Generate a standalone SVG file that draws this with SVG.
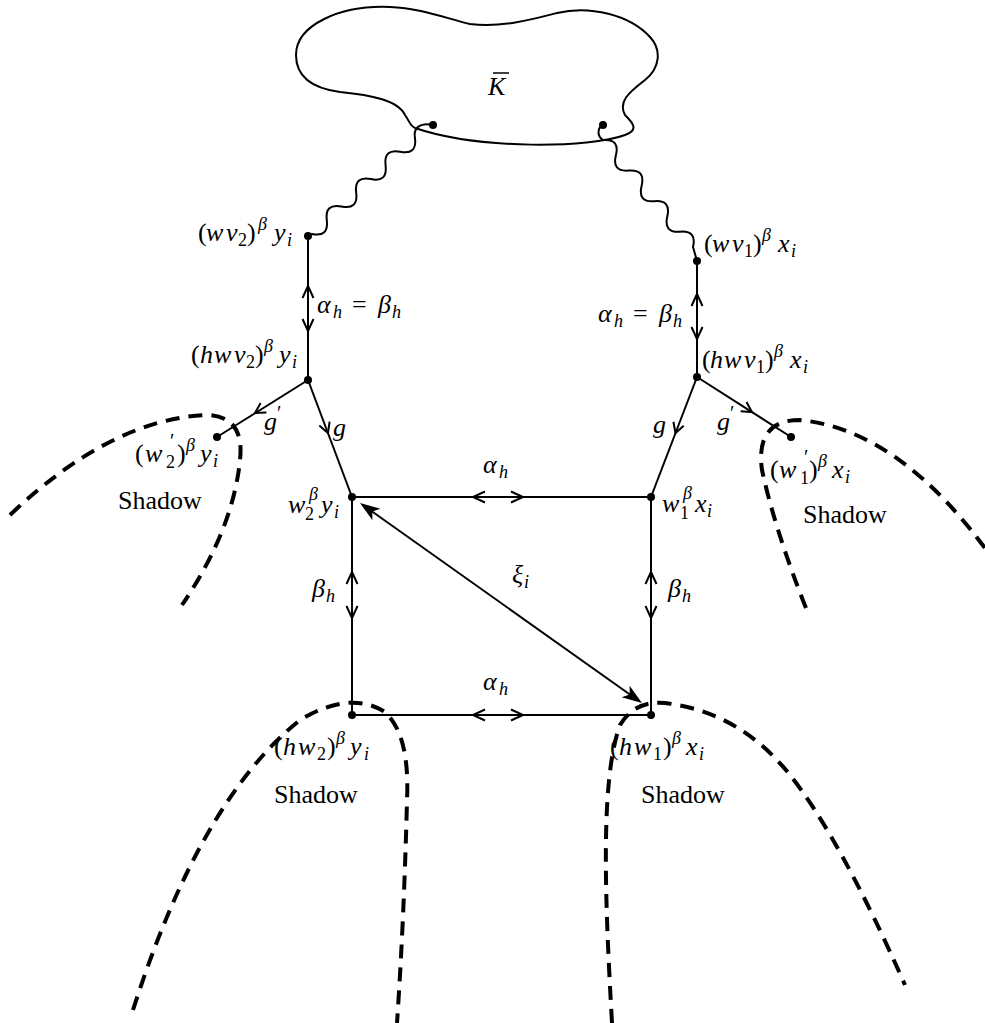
<svg xmlns="http://www.w3.org/2000/svg" width="985" height="1023" viewBox="0 0 985 1023">
<defs>
<circle id="dot" r="4" fill="#000"/>
</defs>
<rect width="985" height="1023" fill="#fff"/>

<g id="blob" font-family="Liberation Serif" font-size="26" font-style="italic">
<path fill="none" stroke="#000" stroke-width="2" d="M 296 55 C 296 25, 340 5, 390 7 C 420 8, 445 18, 470 24 C 500 28, 530 20, 557 13 C 590 5, 630 15, 650 37 C 662 50, 660 68, 645 80 C 628 93, 618 102, 625 115 C 632 122, 640 130, 625 135 C 590 148, 480 150, 415 128 C 410 126, 410 122, 405 115 C 398 100, 370 95, 340 92 C 310 88, 296 75, 296 55 Z"/>
<text x="488" y="95">K</text>
<line x1="493" y1="73" x2="509" y2="73" stroke="#000" stroke-width="1.5"/>
<use href="#dot" x="433" y="125"/>
<use href="#dot" x="603" y="125"/>
</g>

<g id="shadows" font-family="Liberation Serif" font-size="26">
<g fill="none" stroke="#000" stroke-width="4" stroke-dasharray="14 9">
<path d="M 10 515 Q 110 420 205 415 Q 245 415 240 460 Q 233 530 182 605"/>
<path d="M 806 608 Q 775 530 762 470 Q 755 420 800 420 Q 900 430 990 555"/>
<path d="M 133 1010 Q 200 800 300 720 Q 350 690 385 712 Q 410 735 407 800 Q 404 920 397 1023"/>
<path d="M 612 1023 C 605 900, 600 780, 620 725 Q 635 700 665 703 Q 740 712 790 775 T 905 985"/>
</g>
<text x="118" y="509">Shadow</text>
<text x="803" y="523">Shadow</text>
<text x="274" y="803">Shadow</text>
<text x="641" y="803">Shadow</text>
</g>

<g id="connectors" fill="none" stroke="#000" stroke-width="2">
<path d="M 433 125 C 420 122, 413 128, 415 138 Q 417.2 155.1 400.3 151.7 T 385.6 165.4 T 370.9 179.1 T 356.2 192.8 T 341.5 206.5 T 326.8 220.2 T 312.1 233.9 L 308 236"/>
<path d="M 603 125 C 597 128, 597 136, 603 140 Q 620.1 138.6 615.9 155.3 T 628.7 170.6 T 641.6 185.9 T 654.4 201.2 T 667.3 216.4 T 680.2 231.7 T 693 247 L 697 261"/>
<line x1="308" y1="236" x2="308" y2="380"/>
<path d="M 302.5 298 L 308 286 L 313.5 298 M 302.5 319 L 308 331 L 313.5 319"/>
<line x1="697" y1="261" x2="697" y2="377"/>
<path d="M 691.5 306 L 697 294 L 702.5 306 M 691.5 327 L 697 339 L 702.5 327"/>
<line x1="308" y1="380" x2="352" y2="497"/>
<path d="M 319.3 425.6 L 328 433 L 329.6 421.7"/>
<line x1="308" y1="380" x2="217" y2="437"/>
<path d="M 260.6 403 L 255 413 L 266.4 412.4"/>
<line x1="697" y1="377" x2="651" y2="497"/>
<path d="M 673.4 421.7 L 675.5 433 L 683.7 425.7"/>
<line x1="697" y1="377" x2="791" y2="437"/>
<path d="M 740.6 411.2 L 752 412 L 746.5 402"/>
<line x1="352" y1="497" x2="651" y2="497"/>
<path d="M 485 491.5 L 473 497 L 485 502.5 M 511 491.5 L 523 497 L 511 502.5"/>
<line x1="352" y1="715" x2="651" y2="715"/>
<path d="M 485 709.5 L 473 715 L 485 720.5 M 511 709.5 L 523 715 L 511 720.5"/>
<line x1="352" y1="497" x2="352" y2="715"/>
<path d="M 346.5 584 L 352 572 L 357.5 584 M 346.5 606 L 352 618 L 357.5 606"/>
<line x1="651" y1="497" x2="651" y2="715"/>
<path d="M 645.5 584 L 651 572 L 656.5 584 M 645.5 606 L 651 618 L 656.5 606"/>
<line x1="370" y1="510" x2="632" y2="696"/>
<polygon fill="#000" stroke="none" points="360,503 380.4,508.8 372.3,511.6 372.4,520.2"/>
<polygon fill="#000" stroke="none" points="642,703 621.6,697.2 629.7,694.4 629.6,685.8"/>
</g>

<g id="edge-labels" font-family="Liberation Serif" font-size="26" font-style="italic">
<text y="313"><tspan x="317">α</tspan><tspan font-size="18" x="333" dy="5">h</tspan><tspan font-style="normal" x="352" dy="-5">=</tspan><tspan x="378">β</tspan><tspan font-size="18" x="392" dy="5">h</tspan></text>
<text y="322"><tspan x="598">α</tspan><tspan font-size="18" x="614" dy="5">h</tspan><tspan font-style="normal" x="633" dy="-5">=</tspan><tspan x="659">β</tspan><tspan font-size="18" x="673" dy="5">h</tspan></text>
<text x="264" y="430">g<tspan font-size="20" font-style="normal" x="277" dy="-10">′</tspan></text>
<text x="333" y="436">g</text>
<text x="653" y="433">g</text>
<text x="717" y="430">g<tspan font-size="20" font-style="normal" x="730" dy="-10">′</tspan></text>
<text y="473"><tspan x="483">α</tspan><tspan font-size="18" x="499" dy="5">h</tspan></text>
<text y="690"><tspan x="483">α</tspan><tspan font-size="18" x="499" dy="5">h</tspan></text>
<text y="583"><tspan x="512">ξ</tspan><tspan font-size="18" x="524" dy="5">i</tspan></text>
<text y="597"><tspan x="312">β</tspan><tspan font-size="18" x="326" dy="5">h</tspan></text>
<text y="597"><tspan x="668">β</tspan><tspan font-size="18" x="682" dy="5">h</tspan></text>
</g>

<g id="nodes" font-family="Liberation Serif" font-size="26" font-style="italic">
<g id="n-wv2">
<use href="#dot" x="308" y="236"/>
<text y="241"><tspan font-style="normal" x="198">(</tspan><tspan x="206">w</tspan><tspan x="226">v</tspan><tspan font-size="18" font-style="normal" x="238" dy="5">2</tspan><tspan font-style="normal" x="247" dy="-5">)</tspan><tspan font-size="18" x="258" dy="-11">β</tspan><tspan x="274" dy="11">y</tspan><tspan font-size="18" x="287" dy="5">i</tspan></text>
</g>
<g id="n-hwv2">
<use href="#dot" x="308" y="380"/>
<text y="363"><tspan font-style="normal" x="191">(</tspan><tspan x="200">h</tspan><tspan x="214">w</tspan><tspan x="234">v</tspan><tspan font-size="18" font-style="normal" x="246" dy="5">2</tspan><tspan font-style="normal" x="255" dy="-5">)</tspan><tspan font-size="18" x="264" dy="-11">β</tspan><tspan x="279" dy="11">y</tspan><tspan font-size="18" x="292" dy="5">i</tspan></text>
</g>
<g id="n-w2p">
<use href="#dot" x="217" y="437"/>
<text y="462"><tspan font-style="normal" x="135">(</tspan><tspan x="145">w</tspan><tspan font-size="20" font-style="normal" x="170" dy="-14">′</tspan><tspan font-size="18" font-style="normal" x="166" dy="20">2</tspan><tspan font-style="normal" x="177" dy="-6">)</tspan><tspan font-size="18" x="186" dy="-11">β</tspan><tspan x="200" dy="11">y</tspan><tspan font-size="18" x="213" dy="5">i</tspan></text>
</g>
<g id="n-w2">
<use href="#dot" x="352" y="497"/>
<text y="513"><tspan x="288">w</tspan><tspan font-size="18" x="309" dy="-13">β</tspan><tspan font-size="18" font-style="normal" x="305" dy="20">2</tspan><tspan x="321" dy="-7">y</tspan><tspan font-size="18" x="334" dy="5">i</tspan></text>
</g>
<g id="n-hw2">
<use href="#dot" x="352" y="715"/>
<text y="755"><tspan font-style="normal" x="274">(</tspan><tspan x="283">h</tspan><tspan x="298">w</tspan><tspan font-size="18" font-style="normal" x="317" dy="5">2</tspan><tspan font-style="normal" x="327" dy="-5">)</tspan><tspan font-size="18" x="336" dy="-11">β</tspan><tspan x="350" dy="11">y</tspan><tspan font-size="18" x="364" dy="5">i</tspan></text>
</g>
<g id="n-hw1">
<use href="#dot" x="651" y="715"/>
<text y="755"><tspan font-style="normal" x="610">(</tspan><tspan x="619">h</tspan><tspan x="634">w</tspan><tspan font-size="18" font-style="normal" x="653" dy="5">1</tspan><tspan font-style="normal" x="663" dy="-5">)</tspan><tspan font-size="18" x="672" dy="-11">β</tspan><tspan x="686" dy="11">x</tspan><tspan font-size="18" x="699" dy="5">i</tspan></text>
</g>
<g id="n-w1">
<use href="#dot" x="651" y="497"/>
<text y="512"><tspan x="662">w</tspan><tspan font-size="18" x="683" dy="-13">β</tspan><tspan font-size="18" font-style="normal" x="680" dy="20">1</tspan><tspan x="695" dy="-7">x</tspan><tspan font-size="18" x="707" dy="5">i</tspan></text>
</g>
<g id="n-w1p">
<use href="#dot" x="791" y="437"/>
<text y="478"><tspan font-style="normal" x="770">(</tspan><tspan x="779">w</tspan><tspan font-size="20" font-style="normal" x="804" dy="-14">′</tspan><tspan font-size="18" font-style="normal" x="800" dy="20">1</tspan><tspan font-style="normal" x="809" dy="-6">)</tspan><tspan font-size="18" x="818" dy="-11">β</tspan><tspan x="832" dy="11">x</tspan><tspan font-size="18" x="845" dy="5">i</tspan></text>
</g>
<g id="n-hwv1">
<use href="#dot" x="697" y="377"/>
<text y="368"><tspan font-style="normal" x="702">(</tspan><tspan x="710">h</tspan><tspan x="724">w</tspan><tspan x="744">v</tspan><tspan font-size="18" font-style="normal" x="756" dy="5">1</tspan><tspan font-style="normal" x="765" dy="-5">)</tspan><tspan font-size="18" x="774" dy="-11">β</tspan><tspan x="790" dy="11">x</tspan><tspan font-size="18" x="803" dy="5">i</tspan></text>
</g>
<g id="n-wv1">
<use href="#dot" x="697" y="261"/>
<text y="252"><tspan font-style="normal" x="704">(</tspan><tspan x="712">w</tspan><tspan x="732">v</tspan><tspan font-size="18" font-style="normal" x="744" dy="5">1</tspan><tspan font-style="normal" x="753" dy="-5">)</tspan><tspan font-size="18" x="762" dy="-11">β</tspan><tspan x="778" dy="11">x</tspan><tspan font-size="18" x="791" dy="5">i</tspan></text>
</g>
</g>
</svg>
